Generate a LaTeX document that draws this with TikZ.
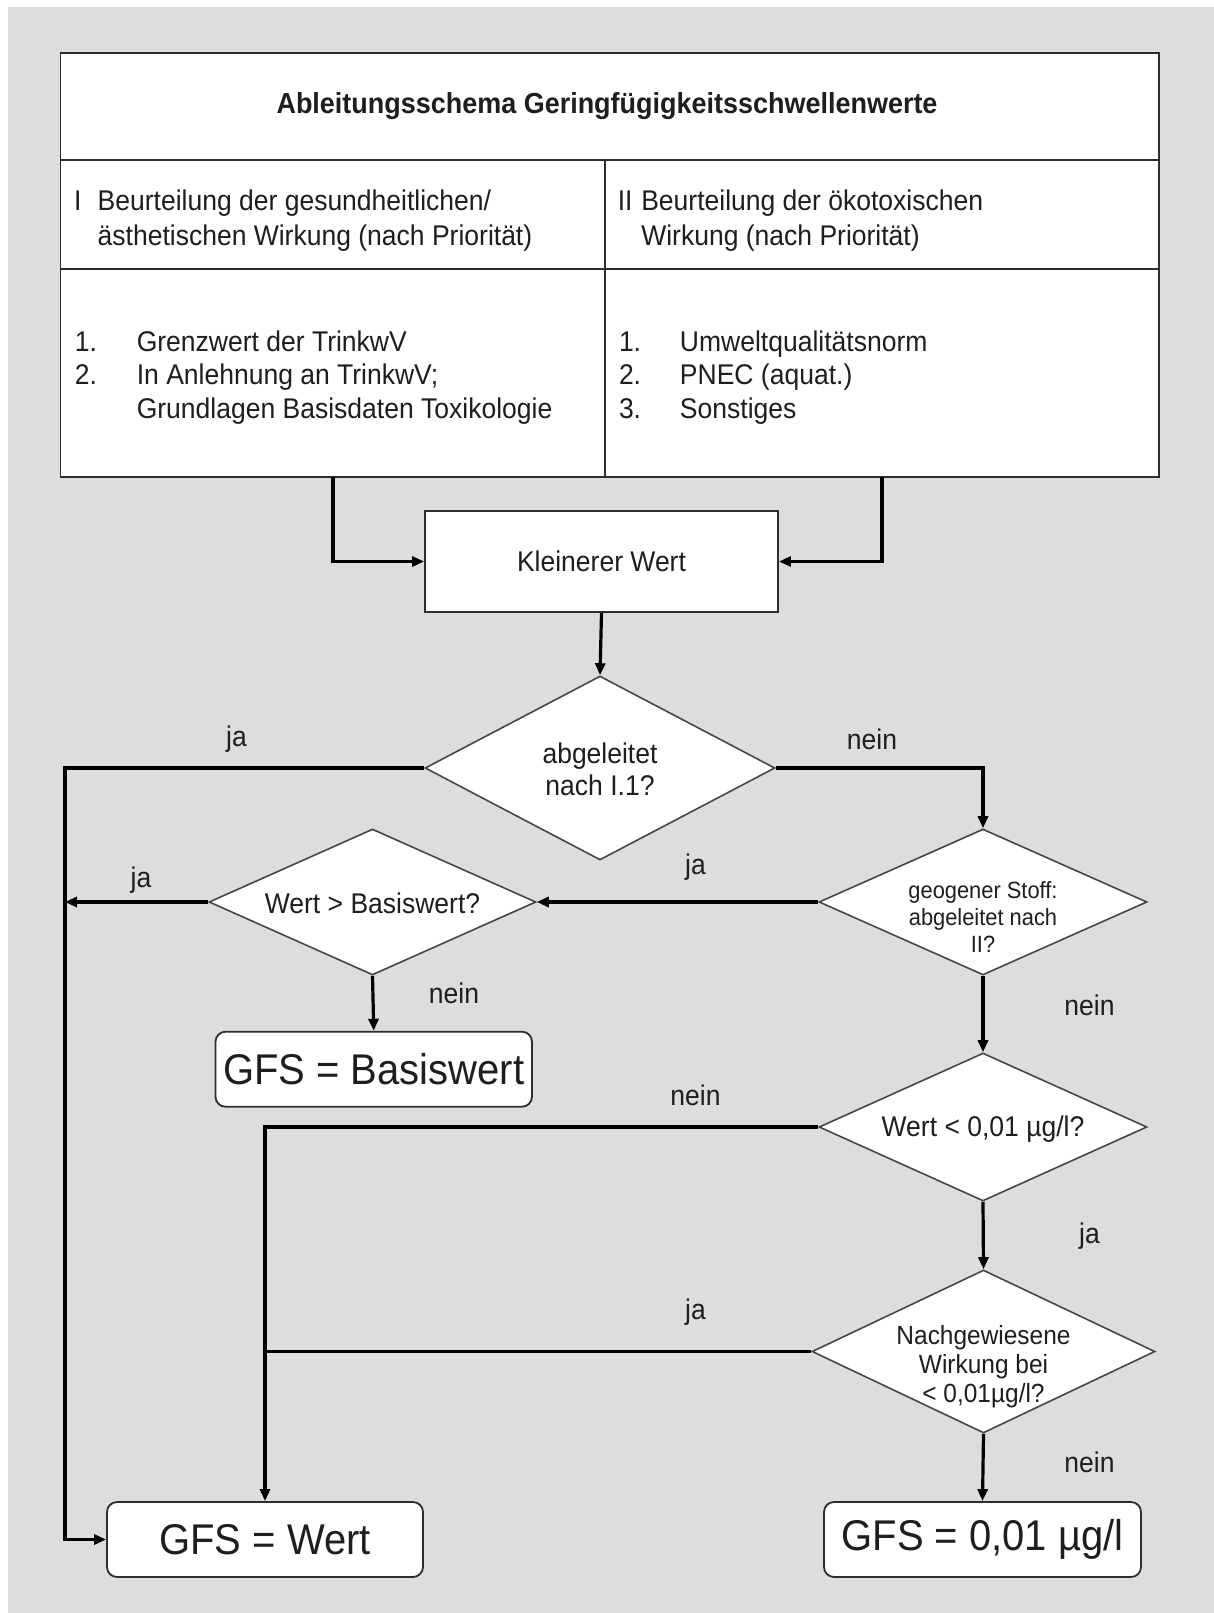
\documentclass[tikz,border=0pt]{standalone}
\usepackage{fontspec}
\setmainfont[FakeStretch=0.93]{Liberation Sans}
\usetikzlibrary{shapes.geometric,arrows.meta}
\definecolor{bgc}{RGB}{221,221,221}
\definecolor{txt}{RGB}{30,30,30}
\definecolor{edgec}{RGB}{45,45,45}
\definecolor{diac}{RGB}{70,70,70}
\newcommand\myfs[2]{\fontsize{#1pt}{#2pt}\selectfont}
\begin{document}
\begin{tikzpicture}[x=1pt,y=-1pt,
  cell/.style={draw=edgec, line width=1.8pt, fill=white, inner sep=0pt},
  conn/.style={line width=3.2pt, draw=black},
  arr/.style={conn, -{Triangle[length=12pt,width=10pt]}},
  dia/.style={diamond, draw=diac, line width=1.6pt, fill=white, inner sep=0pt},
  rbox/.style={draw=edgec, line width=1.8pt, fill=white, rounded corners=10pt, inner sep=0pt, text=txt, font=\myfs{43}{48}},
  lbl/.style={text=txt, font=\myfs{28.5}{32}, inner sep=0pt},
  small/.style={text=txt, font=\myfs{23.5}{26.7}, inner sep=0pt, align=center},
  mid/.style={text=txt, font=\myfs{26.3}{29}, inner sep=0pt, align=center},
]
\useasboundingbox (0,0) rectangle (1214,1613);
\fill[white] (0,0) rectangle (1214,1613);
\fill[bgc] (8,7) rectangle (1214,1613);

% table cells
\node[cell, minimum width=1098.5pt, minimum height=107pt] (title) at (609.75,106.5) {};
\node[cell, minimum width=544.5pt, minimum height=109pt] (hl) at (332.75,214.5) {};
\node[cell, minimum width=554pt, minimum height=109pt] (hr) at (882,214.5) {};
\node[cell, minimum width=544.5pt, minimum height=208pt] (ll) at (332.75,373) {};
\node[cell, minimum width=554pt, minimum height=208pt] (lr) at (882,373) {};

\node[text=txt, inner sep=0pt, font=\bfseries\myfs{29}{33}] (titlet) at (607,106.5) {Ableitungsschema Geringfügigkeitsschwellenwerte};

\node[anchor=base west, inner sep=0pt, text=txt, font=\myfs{28.5}{35}] (hlt) at (74,211)
  {\begin{tabular}[t]{@{}l@{}l@{}}\makebox[23.5pt][l]{I} & Beurteilung der gesundheitlichen/\\ & ästhetischen Wirkung (nach Priorität)\end{tabular}};
\node[anchor=base west, inner sep=0pt, text=txt, font=\myfs{28.5}{35}] (hrt) at (617.6,211)
  {\begin{tabular}[t]{@{}l@{}l@{}}\makebox[23.5pt][l]{II} & Beurteilung der ökotoxischen\\ & Wirkung (nach Priorität)\end{tabular}};

\node[anchor=base west, inner sep=0pt, text=txt, font=\myfs{28.5}{33.5}] (llt) at (74.6,351)
  {\begin{tabular}[t]{@{}l@{}l@{}}\makebox[62pt][l]{1.} & Grenzwert der TrinkwV\\ \makebox[62pt][l]{2.} & In Anlehnung an TrinkwV;\\ & Grundlagen Basisdaten Toxikologie\end{tabular}};
\node[anchor=base west, inner sep=0pt, text=txt, font=\myfs{28.5}{33.5}] (lrt) at (618.8,351)
  {\begin{tabular}[t]{@{}l@{}l@{}}\makebox[61pt][l]{1.} & Umweltqualitätsnorm\\ \makebox[61pt][l]{2.} & PNEC (aquat.)\\ \makebox[61pt][l]{3.} & Sonstiges\end{tabular}};

\coordinate (tabL) at (333,477);
\coordinate (tabR) at (882,477);

% flow nodes
\node[cell, minimum width=353pt, minimum height=101pt, text=txt, font=\myfs{28.5}{32}] (kw) at (601.5,561.5) {Kleinerer Wert};

\node[dia, minimum width=350pt, minimum height=184pt] (d1) at (600,768) {};
\node[lbl, align=center, font=\myfs{28.5}{31.7}] (d1t) at (600,769) {abgeleitet\\nach I.1?};

\node[dia, minimum width=328pt, minimum height=146pt] (d2) at (983,902) {};
\node[small] (d2t) at (983,917) {geogener Stoff:\\abgeleitet nach\\II?};

\node[dia, minimum width=327pt, minimum height=146pt] (d3) at (372.5,902) {};
\node[lbl] (d3t) at (372.5,903) {Wert > Basiswert?};

\node[dia, minimum width=328pt, minimum height=148pt] (d4) at (983,1127) {};
\node[lbl] (d4t) at (983,1129) {Wert < 0,01 µg/l?};

\node[dia, minimum width=343pt, minimum height=163pt] (d5) at (983.5,1351.5) {};
\node[mid] (d5t) at (983.5,1367) {Nachgewiesene\\Wirkung bei\\< 0,01µg/l?};

\node[rbox, minimum width=316.5pt, minimum height=75pt] (bb) at (373.75,1069.2) {GFS = Basiswert};
\node[rbox, minimum width=316pt, minimum height=75pt] (bw) at (265,1539.5) {GFS = Wert};
\node[rbox, minimum width=317pt, minimum height=75pt] (b001) at (982.5,1539.5) {GFS = 0,01 µg/l};

\coordinate (lx) at (65,768);

% connectors
\draw[arr] (tabL) |- (kw.west);
\draw[arr] (tabR) |- (kw.east);
\draw[arr] (kw.south) -- (d1.north);
\draw[arr] (d1.west) -- (lx) |- (bw.west);
\draw[arr] (d1.east) -| (d2.north);
\draw[arr] (d2.west) -- (d3.east);
\draw[arr] (d3.west) -- (d3.west -| lx);
\draw[arr] (d3.south) -- (bb.north);
\draw[arr] (d2.south) -- (d4.north);
\draw[arr] (d4.west) -| (bw.north);
\draw[arr] (d4.south) -- (d5.north);
\draw[conn] (d5.west) -- (d5.west -| bw.north);
\draw[arr] (d5.south) -- (b001.north);

% labels
\node[lbl] (l1) at (236.5,739) {ja};
\node[lbl] (l2) at (872,739) {nein};
\node[lbl] (l3) at (695.5,867) {ja};
\node[lbl] (l4) at (141,880) {ja};
\node[lbl] (l5) at (454,993) {nein};
\node[lbl] (l6) at (1089.5,1005) {nein};
\node[lbl] (l7) at (695.5,1095) {nein};
\node[lbl] (l8) at (1089.5,1236) {ja};
\node[lbl] (l9) at (695.5,1312) {ja};
\node[lbl] (l10) at (1089.5,1462) {nein};
\end{tikzpicture}
\end{document}
